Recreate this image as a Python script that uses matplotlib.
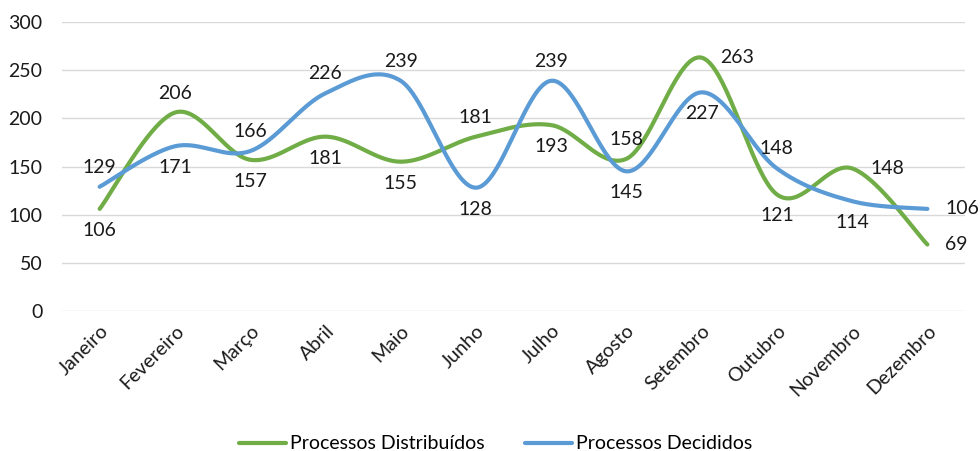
import numpy as np
import matplotlib.pyplot as plt

meses = ['Janeiro', 'Fevereiro', 'Março', 'Abril', 'Maio', 'Junho', 'Julho',
         'Agosto', 'Setembro', 'Outubro', 'Novembro', 'Dezembro']
distribuidos = [106, 206, 157, 181, 155, 181, 193, 158, 263, 121, 148, 69]
decididos = [129, 171, 166, 226, 239, 128, 239, 145, 227, 148, 114, 106]

# where each data label sits, as Excel placed them
pos_distribuidos = ['below', 'above', 'below', 'below', 'below', 'above',
                    'below', 'above', 'right', 'below', 'right', 'right']
pos_decididos = ['above', 'below', 'above', 'above', 'above', 'below',
                 'above', 'below', 'below', 'above', 'below', 'right']

GREEN = '#70AD47'
BLUE = '#5B9BD5'
FS = 14
plt.rcParams['font.family'] = ['Lato', 'DejaVu Sans']


def smooth(y, n=40):
    # Catmull-Rom through the points, like Excel's smoothed line
    y = np.asarray(y, float)
    x = np.arange(len(y), dtype=float)
    pts = np.column_stack([x, y])
    ext = np.vstack([pts[0], pts, pts[-1]])
    out = []
    t = np.linspace(0, 1, n)[:, None]
    for i in range(len(pts) - 1):
        p0, p1, p2, p3 = ext[i], ext[i + 1], ext[i + 2], ext[i + 3]
        c1 = p1 + (p2 - p0) / 6
        c2 = p2 - (p3 - p1) / 6
        seg = ((1 - t)**3 * p1 + 3 * (1 - t)**2 * t * c1
               + 3 * (1 - t) * t**2 * c2 + t**3 * p2)
        out.append(seg if i == 0 else seg[1:])
    out = np.vstack(out)
    return out[:, 0], out[:, 1]


fig = plt.figure(figsize=(9.8, 4.51), dpi=100)
ax = fig.add_axes([0.0633, 0.3104, 0.9214, 0.6408])

sx, sy = smooth(distribuidos)
ax.plot(sx, sy, color=GREEN, lw=3, solid_capstyle='round',
        label='Processos Distribuídos')
sx, sy = smooth(decididos)
ax.plot(sx, sy, color=BLUE, lw=3, solid_capstyle='round',
        label='Processos Decididos')

offsets = {'above': ((0, 14), 'center', 'center'),
           'below': ((0, -15.5), 'center', 'center'),
           'right': ((13, 0), 'left', 'center')}
for vals, poss in ((distribuidos, pos_distribuidos), (decididos, pos_decididos)):
    for i, (v, p) in enumerate(zip(vals, poss)):
        off, ha, va = offsets[p]
        ax.annotate(str(v), (i, v), xytext=off, textcoords='offset points',
                    ha=ha, va=va, fontsize=FS, color='#1a1a1a')

ax.set_xlim(-0.5, 11.5)
ax.set_ylim(0, 300)
ax.set_yticks(range(0, 301, 50))
ax.set_xticks(range(len(meses)))
ax.set_xticklabels(meses, rotation=45, ha='right', va='top',
                   rotation_mode='anchor')
ax.tick_params(length=0, labelsize=FS, colors='#1a1a1a')
ax.tick_params(axis='y', pad=14)
ax.tick_params(axis='x', pad=8)
ax.grid(axis='y', color='#D9D9D9', lw=1)
ax.set_axisbelow(True)
for s in ax.spines.values():
    s.set_visible(False)

ax.legend(loc='lower center', bbox_to_anchor=(0.5 - 0.0633 / 2 + 0.012, -0.55),
          bbox_transform=ax.transAxes, ncol=2, frameon=False, fontsize=FS,
          handlelength=2.4, handletextpad=0.2, columnspacing=2.1)

fig.savefig('out.png', dpi=100)
